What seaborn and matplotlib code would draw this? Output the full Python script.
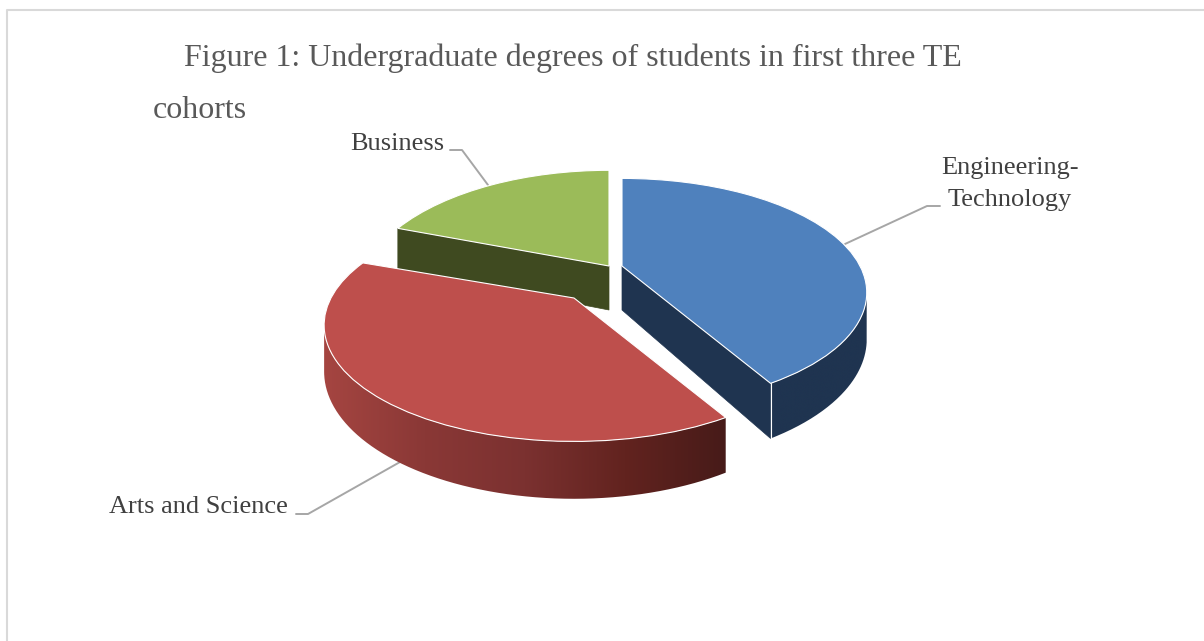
import numpy as np
import matplotlib
matplotlib.use("Agg")
import matplotlib.pyplot as plt
from matplotlib.patches import PathPatch
from matplotlib.path import Path
from matplotlib.transforms import Transform
import seaborn as sns

# share of each degree
categories = ["Engineering-\nTechnology", "Arts and Science", "Business"]
shares = [41.7, 38.9, 19.4]

top_colors = ["#4f81bd", "#be4f4c", "#9bbb59"]
wall_colors = [
    ["#1f3450", "#1f3450"],
    ["#a54541", "#8a3836", "#7b3130", "#62231f", "#471b19"],
    ["#3f4a20", "#3f4a20"],
]

# where each exploded slice sits on the canvas and how wide it is (pixels)
slice_centers = [(622, 266), (574, 298), (609, 266)]
slice_radii = [(238, 108), (243, 110), (243, 118)]
draw_order = [2, 0, 1]
cut_side = ["theta1", None, "theta2"]

PERSP, DEPTH = 0.233, 44

sns.set_theme(style="white")
plt.rcParams["font.family"] = ["Liberation Serif", "DejaVu Serif"]


class PieTilt(Transform):
    """Perspective of a tilted disc, unit pie coords to canvas pixels."""
    input_dims = 2
    output_dims = 2

    def __init__(self, center, radii, drop=0.0):
        super().__init__()
        self.cx, self.cy = center
        self.rx, self.ry = radii
        self.drop = drop

    def transform_non_affine(self, values):
        values = np.asarray(values, dtype=float)
        w = 1 + PERSP * values[:, 1]
        x = self.cx + self.rx * values[:, 0] / w
        y = self.cy - self.ry * values[:, 1] / w + self.drop / w
        return np.column_stack([x, y])


fig = plt.figure(figsize=(12.04, 6.41), dpi=100)
ax = fig.add_axes([0, 0, 1, 1])

wedges, _ = ax.pie(shares, startangle=90, counterclock=False, colors=top_colors,
                   wedgeprops={"edgecolor": "white", "linewidth": 0.8})

# chart frame
ax.plot([7, 7, 1204], [641, 10, 10], color="#d9d9d9", lw=1.5, zorder=0)

# leader lines
ax.plot([450, 462, 488], [150, 150, 185], color="#a6a6a6", lw=1.4, zorder=1)
ax.plot([296, 308, 400], [514, 514, 462], color="#a6a6a6", lw=1.4, zorder=1)
ax.plot([940, 927, 845], [206, 206, 244], color="#a6a6a6", lw=1.4, zorder=1)

z = 2
for i in draw_order:
    wedge = wedges[i]
    top = PieTilt(slice_centers[i], slice_radii[i])
    bottom = PieTilt(slice_centers[i], slice_radii[i], DEPTH)

    # cut face between the centre and the rim
    if cut_side[i]:
        t = np.radians(getattr(wedge, cut_side[i]))
        edge = np.array([[0, 0], [np.cos(t), np.sin(t)]])
        face = np.vstack([top.transform(edge), bottom.transform(edge)[::-1]])
        ax.fill(face[:, 0], face[:, 1], color=wall_colors[i][0], lw=0.5, zorder=z)
        z += 1

    # rim wall, only the part facing the viewer (sin < -PERSP is past the silhouette)
    angles = np.radians(np.linspace(wedge.theta1, wedge.theta2, 400))
    angles = angles[np.sin(angles) < -PERSP]
    if len(angles):
        rim = np.column_stack([np.cos(angles), np.sin(angles)])
        wall = np.vstack([top.transform(rim), bottom.transform(rim)[::-1]])
        shade = np.array(sns.blend_palette(wall_colors[i], 256))[None, :, :3]
        im = ax.imshow(shade, aspect="auto", zorder=z, interpolation="bilinear",
                       extent=[wall[:, 0].min(), wall[:, 0].max(), wall[:, 1].max(), wall[:, 1].min()])
        im.set_clip_path(PathPatch(Path(wall), transform=ax.transData))
        z += 1

    wedge.set_transform(top + ax.transData)
    wedge.set_zorder(z)
    z += 1

ax.set_aspect("auto")
ax.set_xlim(0, 1204)
ax.set_ylim(641, 0)
ax.axis("off")

# thin white seam at the blue slice's front corner
t = np.radians(wedges[0].theta1)
corner = np.array([[np.cos(t), np.sin(t)]])
seam = np.vstack([PieTilt(slice_centers[0], slice_radii[0]).transform(corner),
                  PieTilt(slice_centers[0], slice_radii[0], DEPTH).transform(corner)])
ax.plot(seam[:, 0], seam[:, 1], color="white", lw=0.8, zorder=z)

ax.text(184, 58, "Figure 1: Undergraduate degrees of students in first three TE",
        fontsize=23.05, color="#595959", va="center", ha="left")
ax.text(153, 111, "cohorts", fontsize=23.05, color="#595959", va="center", ha="left")

ax.text(1010, 184, categories[0], fontsize=19, color="#404040", va="center",
        ha="center", linespacing=1.55)
ax.text(288, 507, categories[1], fontsize=19, color="#404040", va="center", ha="right")
ax.text(444, 144, categories[2], fontsize=19, color="#404040", va="center", ha="right")

fig.savefig("out.png", dpi=100, facecolor="white")
